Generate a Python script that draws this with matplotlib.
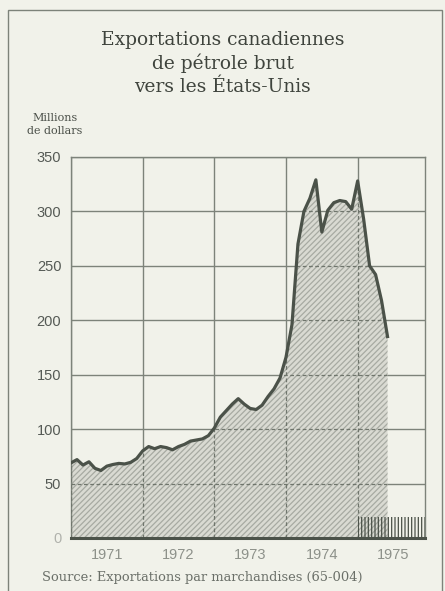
import matplotlib.pyplot as plt
import numpy as np
from matplotlib.patches import Rectangle

plt.rcParams['hatch.linewidth'] = 0.9

# monthly values, Jan 1971 .. Jun 1975 (millions of dollars)
values = [69, 72, 67, 70, 64, 62, 66, 67.5, 68.5, 68, 69.5, 73,
          80, 84, 82, 84, 83, 81, 84, 86, 89, 90, 91, 94,
          101, 111, 117, 123, 128, 123, 119, 118, 122, 130, 137, 147,
          166, 196, 270, 300, 312, 329, 281, 301, 308, 310, 309, 302,
          328, 293, 250, 242, 218, 185]
start_year = 1971
years = ['1971', '1972', '1973', '1974', '1975']
yticks = [0, 50, 100, 150, 200, 250, 300, 350]
provisional_height = 19

t = start_year + np.arange(len(values)) / 12.0

bg = '#f1f2ea'
ink = '#4b5249'
gridc = '#7d837a'

fig = plt.figure(figsize=(4.45, 5.91), dpi=100, facecolor=bg)
ax = fig.add_axes([0.1596, 0.0897, 0.7955, 0.6447])
ax.set_facecolor(bg)

ax.set_xlim(1971, 1975.94)
ax.set_ylim(0, 350)

# grid
for yv in yticks[1:]:
    ax.axhline(yv, color=gridc, lw=1.0, zorder=1)
for xv in range(1971, 1976):
    ax.axvline(xv, color=gridc, lw=1.0, zorder=1)

poly = ax.fill_between(t, 0, values, facecolor='#d9dad2', edgecolor='#a7aaa2',
                       hatch='//////', lw=0, zorder=2)
clip = poly.get_paths()[0]
for yv in yticks[1:]:
    ln, = ax.plot([1971, 1976], [yv, yv], color='#6f756c', lw=0.9,
                  ls=(0, (3, 2)), zorder=3)
    ln.set_clip_path(clip, ax.transData)
for xv in range(1971, 1976):
    ln, = ax.plot([xv, xv], [0, 350], color='#6f756c', lw=0.9,
                  ls=(0, (3, 2)), zorder=3)
    ln.set_clip_path(clip, ax.transData)

ax.plot(t, values, color=ink, lw=2.3, zorder=4, solid_joinstyle='round')

ax.add_patch(Rectangle((1975.0, 0), 0.94, provisional_height, facecolor='none',
                       edgecolor=ink, hatch='|||||', lw=0, zorder=3))

for s in ['left', 'right', 'top']:
    ax.spines[s].set_color(gridc)
    ax.spines[s].set_linewidth(1.0)
ax.spines['bottom'].set_color(ink)
ax.spines['bottom'].set_linewidth(2.2)
ax.spines['bottom'].set_zorder(5)

ax.set_yticks(yticks)
ax.set_yticklabels(['0' if v == 0 else str(v) for v in yticks],
                   fontfamily='Liberation Sans', fontsize=10.5, color='#555a55')
ax.get_yticklabels()[0].set_color('#b0b2ac')
ax.set_xticks([y + 0.5 for y in range(1971, 1976)])
ax.set_xticklabels(years, fontfamily='Liberation Sans', fontsize=10.5, color='#8d918a')
ax.tick_params(length=0, pad=7)

title_kw = dict(ha='center', va='center', fontfamily='DejaVu Serif',
                fontsize=13.4, color='#3f443d')
fig.text(0.5, 0.932, 'Exportations canadiennes', **title_kw)
fig.text(0.5, 0.893, 'de pétrole brut', **title_kw)
fig.text(0.5, 0.853, 'vers les États-Unis', **title_kw)
fig.text(0.124, 0.800, 'Millions', ha='center', va='center',
         fontfamily='DejaVu Serif', fontsize=8, color='#4a4f48')
fig.text(0.124, 0.779, 'de dollars', ha='center', va='center',
         fontfamily='DejaVu Serif', fontsize=8, color='#4a4f48')
fig.text(0.094, 0.022, 'Source: Exportations par marchandises (65-004)',
         ha='left', va='center', fontfamily='DejaVu Serif', fontsize=9.4,
         color='#6a6f68')

# outer frame
fig.add_artist(Rectangle((0.018, -0.02), 0.976, 1.003, transform=fig.transFigure,
                         facecolor='none', edgecolor='#7d837a', lw=1.0))

fig.savefig('out.png', dpi=100, facecolor=bg)
